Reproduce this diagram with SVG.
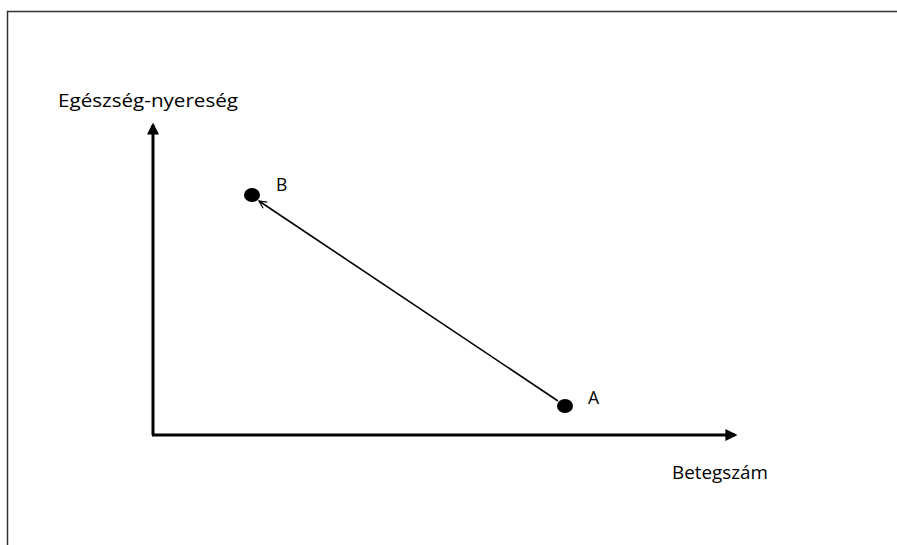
<svg xmlns="http://www.w3.org/2000/svg" width="897" height="545" viewBox="0 0 897 545">
<style>
.t{font-family:"Open Sans","Liberation Sans",sans-serif;font-size:17.5px;fill:#000}
.ax{stroke:#000;stroke-width:3;fill:none}
</style>
<defs>
<marker id="ah" viewBox="0 0 10 10" refX="8" refY="5" markerWidth="4" markerHeight="4" orient="auto" markerUnits="strokeWidth">
<path d="M0,0 L10,5 L0,10 Z" fill="#000"/>
</marker>
<marker id="oa" viewBox="0 0 12 12" refX="11" refY="6" markerWidth="9" markerHeight="9" orient="auto" markerUnits="userSpaceOnUse">
<path d="M1,1 L11,6 L1,11" fill="none" stroke="#000" stroke-width="1.6"/>
</marker>
</defs>
<rect width="897" height="545" fill="#fff"/>
<path d="M7.5,545 V11.5 H897" fill="none" stroke="#333" stroke-width="1.5"/>
<g id="axes">
<line class="ax" x1="153" y1="435" x2="153" y2="125" marker-end="url(#ah)"/>
<line class="ax" x1="152" y1="435" x2="735" y2="435" marker-end="url(#ah)"/>
</g>
<g id="connectors">
<line x1="558" y1="401" x2="259" y2="201" stroke="#000" stroke-width="1.6" marker-end="url(#oa)"/>
</g>
<g id="nodeB">
<ellipse cx="252" cy="195" rx="8" ry="7" fill="#000"/>
<text class="t" x="276" y="191">B</text>
</g>
<g id="nodeA">
<ellipse cx="565" cy="406" rx="8" ry="7" fill="#000"/>
<text class="t" x="588" y="404">A</text>
</g>
<g id="labels">
<text class="t" x="58" y="107" textLength="180" lengthAdjust="spacingAndGlyphs">Egészség-nyereség</text>
<text class="t" x="672" y="479" textLength="96" lengthAdjust="spacingAndGlyphs">Betegszám</text>
</g>
</svg>
